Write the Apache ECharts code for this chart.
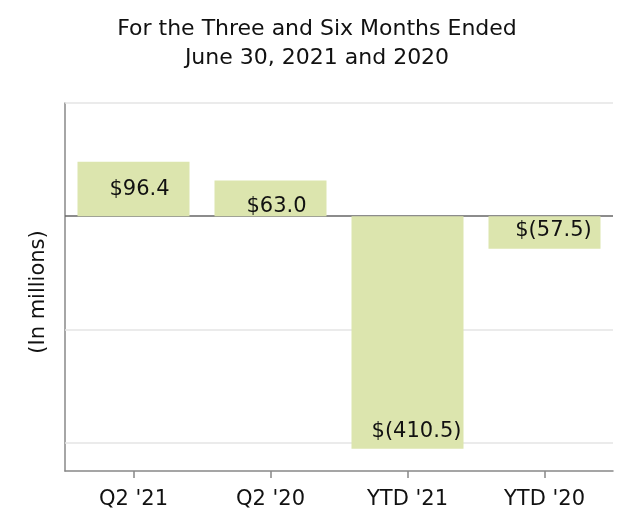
<!DOCTYPE html>
<html>
<head>
<meta charset="utf-8">
<script src="https://cdn.jsdelivr.net/npm/echarts@6/dist/echarts.min.js"></script>
<style>html,body{margin:0;padding:0;background:#fff}#c{width:634px;height:532px}</style>
</head>
<body>
<div id="c"></div>
<script>
const titleLines = ['For the Three and Six Months Ended', 'June 30, 2021 and 2020'];
const categories = ["Q2 '21", "Q2 '20", "YTD '21", "YTD '20"];
const values = [96.4, 63.0, -410.5, -57.5];
const gridValues = [200, -200, -400];
const yName = '(In millions)';

const FONT = 'DejaVu Sans';
const labelOffsets = [[6, 1], [6, 8], [9, 99], [9, -2]];
function fmt(v) { return v >= 0 ? '$' + v.toFixed(1) : '$(' + (-v).toFixed(1) + ')'; }

const chart = echarts.init(document.getElementById('c'), null, {renderer: 'canvas'});
chart.setOption({
  animation: false,
  backgroundColor: '#fff',
  title: {
    text: titleLines.join('\n'),
    left: 'center', top: 10,
    textStyle: {fontFamily: FONT, fontSize: 22, fontWeight: 'normal', color: '#111', lineHeight: 29}
  },
  grid: {left: 65, right: 21, top: 103, bottom: 61, containLabel: false},
  xAxis: {
    type: 'category', data: categories,
    position: 'bottom',
    axisLine: {onZero: false, lineStyle: {color: '#888', width: 1.5}},
    axisTick: {show: true, alignWithLabel: true, length: 7, lineStyle: {color: '#888', width: 1.5}},
    axisLabel: {fontFamily: FONT, fontSize: 21, color: '#111', margin: 18},
    splitLine: {show: false}
  },
  yAxis: {
    type: 'value', min: -450, max: 200,
    name: yName, nameLocation: 'middle', nameGap: 16,
    nameTextStyle: {fontFamily: FONT, fontSize: 21, color: '#111', padding: [0, 0, 0, -10]},
    axisLine: {show: true, lineStyle: {color: '#888', width: 1.5}},
    axisTick: {show: false},
    axisLabel: {show: false},
    splitLine: {show: false}
  },
  series: [{
    type: 'bar',
    barWidth: 112,
    itemStyle: {color: '#dce5ae'},
    data: values.map((v, i) => ({
      value: v,
      label: {offset: labelOffsets[i]}
    })),
    label: {
      show: true, position: 'inside',
      fontFamily: FONT, fontSize: 21, color: '#111',
      formatter: p => fmt(p.value)
    },
    markLine: {
      silent: true, symbol: 'none', label: {show: false},
      data: gridValues.map(g => ({yAxis: g, lineStyle: {color: '#e4e4e4', width: 1.5, type: 'solid'}}))
        .concat([{yAxis: 0, lineStyle: {color: '#666', width: 1.5, type: 'solid'}}]),
      z: 1
    },
    z: 2
  }]
});
</script>
</body>
</html>
